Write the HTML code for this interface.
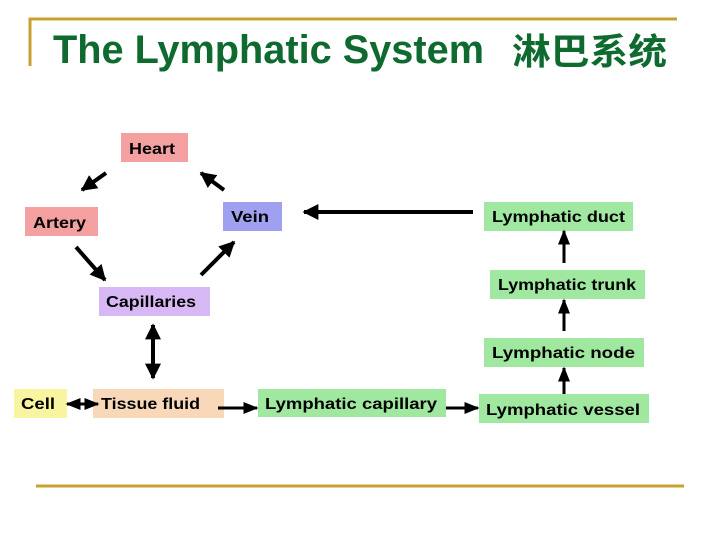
<!DOCTYPE html>
<html><head><meta charset="utf-8"><style>
html,body{margin:0;padding:0;background:#fff;}
svg{display:block;}
text{font-family:"Liberation Sans","Noto Sans CJK SC",sans-serif;font-weight:bold;}
</style></head><body>
<svg width="720" height="540" viewBox="0 0 720 540" xmlns="http://www.w3.org/2000/svg">
<defs>
<marker id="a" viewBox="0 0 10 10" refX="9" refY="5" markerWidth="4" markerHeight="4" orient="auto-start-reverse"><path d="M0,0 L10,5 L0,10 z" fill="#000"/></marker>
<marker id="s" viewBox="0 0 10 10" refX="9" refY="5" markerWidth="5" markerHeight="5" orient="auto-start-reverse"><path d="M0,1 L10,5 L0,9 z" fill="#000"/></marker>
</defs>
<path d="M30,66 V19 H677" fill="none" stroke="#c8a030" stroke-width="3"/>
<line x1="36" y1="486" x2="684" y2="486" stroke="#c8a030" stroke-width="3"/>
<text x="53" y="63" font-size="40" fill="#0f6a30" textLength="431" lengthAdjust="spacingAndGlyphs">The Lymphatic System</text>
<text x="512" y="64" font-size="36" fill="#0f6a30" textLength="155" lengthAdjust="spacingAndGlyphs">淋巴系统</text>

<g font-size="16" fill="#000">
<rect x="121" y="133" width="67" height="29" fill="#f4a0a0"/><text x="129" y="154" textLength="46" lengthAdjust="spacingAndGlyphs">Heart</text>
<rect x="25" y="207" width="73" height="29" fill="#f4a0a0"/><text x="33" y="228" textLength="53" lengthAdjust="spacingAndGlyphs">Artery</text>
<rect x="223" y="202" width="59" height="29" fill="#a0a0f0"/><text x="231" y="222" textLength="38" lengthAdjust="spacingAndGlyphs">Vein</text>
<rect x="99" y="287" width="111" height="29" fill="#d8b8f4"/><text x="106" y="307" textLength="90" lengthAdjust="spacingAndGlyphs">Capillaries</text>
<rect x="14" y="389" width="53" height="29" fill="#f8f4a0"/><text x="21" y="409" textLength="34" lengthAdjust="spacingAndGlyphs">Cell</text>
<rect x="93" y="389" width="131" height="29" fill="#f8d8b8"/><text x="101" y="409" textLength="99" lengthAdjust="spacingAndGlyphs">Tissue fluid</text>
<rect x="258" y="389" width="188" height="28" fill="#a0e8a0"/><text x="265" y="409" textLength="172" lengthAdjust="spacingAndGlyphs">Lymphatic  capillary</text>
<rect x="484" y="202" width="149" height="29" fill="#a0e8a0"/><text x="492" y="222" textLength="133" lengthAdjust="spacingAndGlyphs">Lymphatic duct</text>
<rect x="490" y="270" width="155" height="29" fill="#a0e8a0"/><text x="498" y="290" textLength="138" lengthAdjust="spacingAndGlyphs">Lymphatic trunk</text>
<rect x="484" y="338" width="160" height="29" fill="#a0e8a0"/><text x="492" y="358" textLength="143" lengthAdjust="spacingAndGlyphs">Lymphatic  node</text>
<rect x="479" y="394" width="170" height="29" fill="#a0e8a0"/><text x="486" y="415" textLength="154" lengthAdjust="spacingAndGlyphs">Lymphatic  vessel</text>
</g>

<g stroke="#000" stroke-width="4" fill="none">
<line x1="106" y1="173" x2="82" y2="190" marker-end="url(#a)"/>
<line x1="224" y1="190" x2="201" y2="173" marker-end="url(#a)"/>
<line x1="76" y1="247" x2="105" y2="280" marker-end="url(#a)"/>
<line x1="201" y1="275" x2="234" y2="242" marker-end="url(#a)"/>
<line x1="153" y1="325" x2="153" y2="378" marker-start="url(#a)" marker-end="url(#a)"/>
<line x1="473" y1="212" x2="304" y2="212" marker-end="url(#a)"/>
</g>
<g stroke="#000" stroke-width="3" fill="none">
<line x1="67" y1="404" x2="98" y2="404" marker-start="url(#s)" marker-end="url(#s)"/>
<line x1="218" y1="408" x2="257" y2="408" marker-end="url(#s)"/>
<line x1="446" y1="408" x2="478" y2="408" marker-end="url(#s)"/>
<line x1="564" y1="263" x2="564" y2="231" marker-end="url(#s)"/>
<line x1="564" y1="331" x2="564" y2="300" marker-end="url(#s)"/>
<line x1="564" y1="394" x2="564" y2="368" marker-end="url(#s)"/>
</g>
</svg>
</body></html>
